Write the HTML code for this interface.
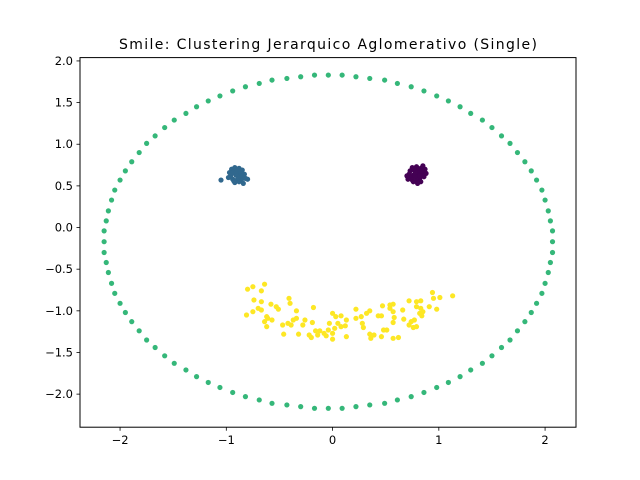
<!DOCTYPE html>
<html><head><meta charset="utf-8"><style>
html,body{margin:0;padding:0;background:#fff}
svg{display:block;font-family:"DejaVu Sans","Liberation Sans",sans-serif}
</style></head><body>
<svg id="chart" width="640" height="480">
<rect width="640" height="480" fill="#fff"/>
<text x="328" y="49" text-anchor="middle" font-size="14" textLength="418">Smile: Clustering Jerarquico Aglomerativo (Single)</text>
<g id="marks"></g>
<rect x="80" y="57.6" width="496" height="369.6" fill="none" stroke="#000" stroke-width="1"/>
<g id="axes"></g>
</svg>
<script>
const xTicks=[-2,-1,0,1,2];
const yTicks=[-2.0,-1.5,-1.0,-0.5,0.0,0.5,1.0,1.5,2.0];
const xDomain=[-2.377,2.291];
const yDomain=[-2.397,2.040];
const ringX=[2.07,2.07,2.05,2.03,2.00,1.97,1.92,1.87,1.81,1.74,1.67,1.59,1.50,1.41,1.30,1.20,1.09,0.98,0.86,0.74,0.61,0.49,0.35,0.22,0.09,
-0.04,-0.17,-0.30,-0.43,-0.57,-0.69,-0.82,-0.94,-1.06,-1.17,-1.28,-1.38,-1.49,-1.58,-1.67,-1.75,-1.82,-1.89,-1.95,-2.00,-2.05,-2.08,-2.11,-2.13,-2.15,
-2.15,-2.15,-2.13,-2.11,-2.08,-2.05,-2.00,-1.95,-1.89,-1.82,-1.75,-1.67,-1.58,-1.49,-1.38,-1.28,-1.17,-1.06,-0.94,-0.82,-0.69,-0.57,-0.43,-0.30,-0.17,
-0.04,0.09,0.22,0.35,0.49,0.61,0.74,0.86,0.98,1.09,1.20,1.30,1.41,1.50,1.59,1.67,1.74,1.81,1.87,1.92,1.97,2.00,2.03,2.05,2.07];
const ringY=[-0.17,-0.04,0.08,0.20,0.33,0.45,0.57,0.68,0.79,0.90,1.01,1.10,1.20,1.29,1.37,1.45,1.52,1.58,1.64,1.69,1.73,1.77,1.79,1.81,1.83,
1.83,1.83,1.81,1.79,1.77,1.73,1.69,1.64,1.58,1.52,1.45,1.37,1.29,1.20,1.10,1.01,0.90,0.79,0.68,0.57,0.45,0.33,0.20,0.08,-0.04,
-0.17,-0.30,-0.42,-0.54,-0.67,-0.79,-0.91,-1.02,-1.13,-1.24,-1.35,-1.44,-1.54,-1.63,-1.71,-1.79,-1.86,-1.92,-1.98,-2.03,-2.07,-2.11,-2.13,-2.15,-2.17,
-2.17,-2.17,-2.15,-2.13,-2.11,-2.07,-2.03,-1.98,-1.92,-1.86,-1.79,-1.71,-1.63,-1.54,-1.44,-1.35,-1.24,-1.13,-1.02,-0.91,-0.79,-0.67,-0.54,-0.42,-0.30];
const leftEyeX=[-0.95,-0.92,-0.88,-0.85,-0.97,-0.93,-0.89,-0.86,-0.83,-0.96,-0.91,-0.87,-0.84,-0.94,-0.90,-0.86,-0.82,-0.98,-0.92,-0.88,-0.91,-0.85,-0.80,-0.95,-0.89,-1.05,-0.93,-0.87,-0.90,-0.84];
const leftEyeY=[0.70,0.72,0.71,0.69,0.66,0.67,0.66,0.65,0.64,0.62,0.63,0.61,0.60,0.58,0.57,0.56,0.59,0.60,0.54,0.55,0.68,0.62,0.58,0.65,0.60,0.57,0.56,0.68,0.70,0.53];
const rightEyeX=[0.75,0.79,0.83,0.87,0.73,0.77,0.81,0.85,0.88,0.72,0.76,0.80,0.84,0.74,0.78,0.82,0.86,0.71,0.79,0.83,0.77,0.81,0.85,0.75,0.80,0.76,0.84,0.82,0.78,0.70];
const rightEyeY=[0.72,0.73,0.71,0.70,0.68,0.69,0.68,0.67,0.65,0.64,0.63,0.65,0.62,0.60,0.61,0.59,0.61,0.58,0.56,0.55,0.70,0.66,0.74,0.57,0.53,0.55,0.68,0.62,0.66,0.62];
const mouthX=[-0.80,-0.75,-0.67,-0.64,-0.74,-0.67,-0.81,-0.75,-0.70,-0.67,-0.62,-0.64,-0.61,-0.62,-0.57,-0.58,-0.53,-0.51,-0.41,-0.40,-0.34,-0.47,-0.42,-0.37,-0.39,-0.46,-0.32,-0.26,-0.28,-0.19,-0.18,-0.20,-0.16,-0.22,-0.08,-0.06,-0.03,-0.04,0.00,0.03,0.08,0.05,0.02,0.00,0.00,0.13,0.12,0.13,0.22,0.22,0.27,0.28,0.29,0.32,0.35,0.35,0.39,0.36,0.43,0.46,0.47,0.48,0.51,0.46,0.54,0.57,0.54,0.57,0.58,0.57,0.66,0.67,0.72,0.79,0.83,0.74,0.72,0.76,0.79,0.77,0.83,0.85,0.84,0.91,0.94,0.95,1.01,0.98,1.13,0.57,0.62,0.08,-0.12,-0.14,-0.34,0.79,0.82];
const mouthY=[-0.74,-0.71,-0.76,-0.68,-0.87,-0.89,-1.05,-1.01,-0.97,-0.99,-1.07,-1.13,-1.09,-1.19,-1.11,-0.92,-0.95,-0.98,-0.85,-0.91,-1.00,-1.17,-1.15,-1.11,-1.17,-1.28,-1.28,-1.11,-1.17,-1.14,-0.96,-1.32,-1.24,-1.29,-1.27,-1.30,-1.15,-1.23,-1.03,-1.07,-1.06,-1.15,-1.21,-1.27,-1.34,-1.11,-1.18,-1.31,-0.98,-1.09,-1.07,-1.15,-1.20,-1.03,-1.00,-1.28,-1.29,-1.33,-1.06,-1.06,-0.94,-1.23,-1.23,-1.31,-0.93,-0.92,-0.97,-1.01,-1.08,-1.14,-0.99,-1.10,-0.88,-0.89,-0.88,-1.13,-1.17,-1.20,-1.19,-1.11,-0.97,-1.01,-1.06,-0.95,-0.78,-0.85,-0.84,-0.98,-0.82,-1.33,-1.32,-1.19,-1.24,-1.29,-1.09,-0.95,-1.03];

const L=80,R=576,T=57.6,B=427.2,NS="http://www.w3.org/2000/svg";
const sx=v=>L+(v-xDomain[0])/(xDomain[1]-xDomain[0])*(R-L);
const sy=v=>B-(v-yDomain[0])/(yDomain[1]-yDomain[0])*(B-T);
const marks=document.getElementById('marks'),axes=document.getElementById('axes');
function series(xs,ys,color,name){
  const g=document.createElementNS(NS,'g');
  
  
  for(let i=0;i<xs.length;i++){
    const c=document.createElementNS(NS,'circle');
    c.setAttribute('cx',sx(xs[i]));c.setAttribute('cy',sy(ys[i]));
    c.setAttribute('r',2.6);c.setAttribute('fill',color);
    
    
    g.appendChild(c);
  }
  marks.appendChild(g);
}
series(ringX,ringY,'#35b779','ring');
series(leftEyeX,leftEyeY,'#31688e','left-eye');
series(rightEyeX,rightEyeY,'#440154','right-eye');
series(mouthX,mouthY,'#fde725','mouth');
function add(tag,attrs,text){
  const e=document.createElementNS(NS,tag);
  for(const k in attrs)e.setAttribute(k,attrs[k]);
  if(text!==undefined)e.textContent=text;
  axes.appendChild(e);return e;
}
xTicks.forEach(v=>{
  const x=sx(v);
  const l=add('line',{x1:x,x2:x,y1:B,y2:B+3.5,stroke:'#000','stroke-width':0.8});
  
  
  const t=add('text',{x:x,y:B+17,'text-anchor':'middle','font-size':11.5},String(v).replace('-','\u2212'));
  
  
});
yTicks.forEach(v=>{
  const y=sy(v);
  const l=add('line',{x1:L-3.5,x2:L,y1:y,y2:y,stroke:'#000','stroke-width':0.8});
  
  
  const t=add('text',{x:L-7,y:y+4,'text-anchor':'end','font-size':11.5},v.toFixed(1).replace('-','\u2212'));
  
  
});
</script>
</body></html>
